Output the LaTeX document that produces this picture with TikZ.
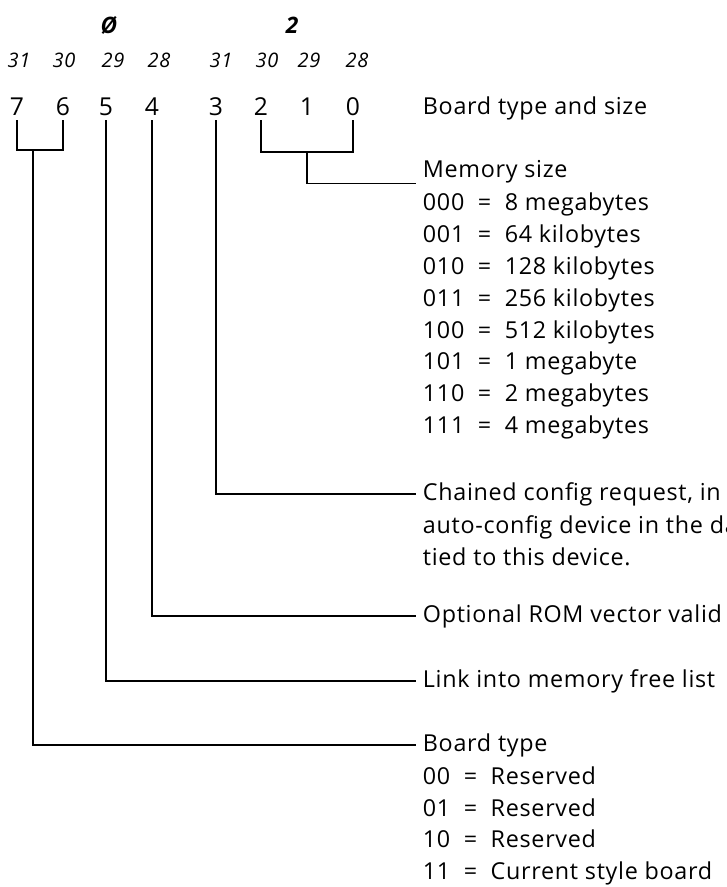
\documentclass[tikz,border=0pt]{standalone}
\usepackage{fontspec}
\setmainfont{Open Sans}[LetterSpace=3]
\usetikzlibrary{positioning}

\begin{document}
\begin{tikzpicture}[
  x=0.75pt, y=-0.75pt,
  bit/.style={font=\fontsize{18.5}{22}\selectfont, inner sep=3pt},
  hand/.style={font=\fontsize{15}{18}\selectfont\itshape, inner sep=1pt},
  nib/.style={font=\fontsize{17}{20}\selectfont\bfseries\itshape, inner sep=1pt},
  desc/.style={anchor=west, align=left, inner xsep=5pt, inner ysep=0pt, font=\fontsize{17.5}{23.85}\selectfont},
  more/.style={desc, anchor=north west},
  lead/.style={line width=0.8pt}
]
  \useasboundingbox (0,0) rectangle (726,887);

  % nibble values written above
  \node[nib] (nibhi) at (109,25) {Ø};
  \node[nib] (niblo) at (292,25) {2};

  % address bits
  \node[hand] (a31a) at (19,60) {31};
  \node[hand] (a30a) at (64,60) {30};
  \node[hand] (a29a) at (113,60) {29};
  \node[hand] (a28a) at (159,60) {28};
  \node[hand] (a31b) at (221,60) {31};
  \node[hand] (a30b) at (267,60) {30};
  \node[hand] (a29b) at (309,60) {29};
  \node[hand] (a28b) at (357,60) {28};

  % bit numbers
  \node[bit] (bit7) at (17,107) {7};
  \node[bit] (bit6) at (63,107) {6};
  \node[bit] (bit5) at (106,107) {5};
  \node[bit] (bit4) at (152,107) {4};
  \node[bit] (bit3) at (216,107) {3};
  \node[bit] (bit2) at (261,107) {2};
  \node[bit] (bit1) at (307,107) {1};
  \node[bit] (bit0) at (353,107) {0};

  \node[desc] (title) at (416,108) {Board type and size};

  \node[desc] (memhead) at (416,172) {Memory size};
  \node[more, below=7pt of memhead.south west, anchor=north west] (memlist) {%
    000 \ = \ 8 megabytes\\
    001 \ = \ 64 kilobytes\\
    010 \ = \ 128 kilobytes\\
    011 \ = \ 256 kilobytes\\
    100 \ = \ 512 kilobytes\\
    101 \ = \ 1 megabyte\\
    110 \ = \ 2 megabytes\\
    111 \ = \ 4 megabytes};

  \node[desc] (chain) at (416,494) {Chained config request, in};
  \node[more, below=7pt of chain.south west, anchor=north west] (chainmore) {%
    auto-config device in the da\\
    tied to this device.};

  \node[desc] (romvec) at (416,616) {Optional ROM vector valid};
  \node[desc] (link) at (416,681) {Link into memory free list};

  \node[desc] (boardhead) at (416,745) {Board type};
  \node[more, below=7pt of boardhead.south west, anchor=north west] (boardlist) {%
    00 \ = \ Reserved\\
    01 \ = \ Reserved\\
    10 \ = \ Reserved\\
    11 \ = \ Current style board};

  % brackets
  \coordinate (join76) at (33,150);
  \coordinate (join20) at (307,152);
  \draw[lead] (bit7.south) |- (join76) -| (bit6.south);
  \draw[lead] (bit2.south) |- (join20) -| (bit0.south);

  % leaders
  \draw[lead] (join20) |- (memhead.south west);
  \draw[lead] (bit3.south) |- (chain.west);
  \draw[lead] (bit4.south) |- (romvec.west);
  \draw[lead] (bit5.south) |- (link.west);
  \draw[lead] (join76) |- (boardhead.west);
\end{tikzpicture}
\end{document}
